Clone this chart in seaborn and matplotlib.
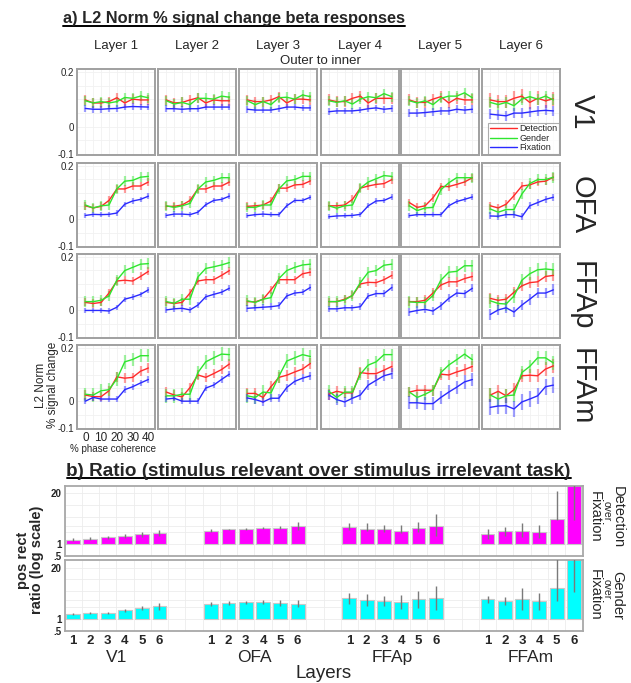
import numpy as np
import pandas as pd
import matplotlib
matplotlib.use("Agg")
import matplotlib.pyplot as plt
import seaborn as sns
from matplotlib.lines import Line2D

sns.set_style("white")
plt.rcParams['font.family'] = ['Liberation Sans', 'DejaVu Sans']

# ---- data: part a) (9 coherence levels x 6 layers, one list per region/task) ----
coherence = [0, 5, 10, 15, 20, 25, 30, 35, 40]
layers = ["Layer 1", "Layer 2", "Layer 3", "Layer 4", "Layer 5", "Layer 6"]
regions = ["V1", "OFA", "FFAp", "FFAm"]
tasks = ["Detection", "Gender", "Fixation"]

v1_det = [[0.098, 0.087, 0.087, 0.092, 0.106, 0.087, 0.101, 0.098, 0.098],
          [0.098, 0.087, 0.089, 0.098, 0.106, 0.087, 0.098, 0.095, 0.095],
          [0.098, 0.092, 0.092, 0.098, 0.110, 0.087, 0.101, 0.101, 0.098],
          [0.098, 0.092, 0.092, 0.104, 0.112, 0.087, 0.104, 0.104, 0.104],
          [0.098, 0.089, 0.089, 0.101, 0.110, 0.087, 0.104, 0.098, 0.098],
          [0.098, 0.092, 0.092, 0.104, 0.112, 0.089, 0.104, 0.095, 0.102]]
v1_gen = [[0.095, 0.087, 0.092, 0.087, 0.092, 0.107, 0.104, 0.112, 0.106],
          [0.095, 0.083, 0.089, 0.081, 0.104, 0.104, 0.101, 0.112, 0.108],
          [0.095, 0.081, 0.092, 0.081, 0.106, 0.108, 0.101, 0.116, 0.110],
          [0.095, 0.089, 0.095, 0.083, 0.101, 0.110, 0.106, 0.121, 0.110],
          [0.095, 0.087, 0.095, 0.081, 0.104, 0.112, 0.112, 0.124, 0.106],
          [0.089, 0.081, 0.089, 0.077, 0.101, 0.110, 0.101, 0.112, 0.098]]
v1_fix = [[0.067, 0.064, 0.064, 0.066, 0.067, 0.072, 0.074, 0.073, 0.072],
          [0.066, 0.066, 0.064, 0.066, 0.066, 0.072, 0.072, 0.072, 0.072],
          [0.064, 0.061, 0.061, 0.061, 0.066, 0.072, 0.072, 0.069, 0.069],
          [0.055, 0.058, 0.058, 0.058, 0.061, 0.066, 0.069, 0.064, 0.067],
          [0.050, 0.050, 0.052, 0.055, 0.058, 0.058, 0.064, 0.061, 0.064],
          [0.046, 0.043, 0.040, 0.050, 0.050, 0.054, 0.058, 0.060, 0.058]]

ofa_det = [[0.051, 0.043, 0.049, 0.071, 0.114, 0.114, 0.125, 0.125, 0.140],
           [0.049, 0.049, 0.054, 0.071, 0.114, 0.114, 0.125, 0.125, 0.140],
           [0.049, 0.051, 0.054, 0.069, 0.117, 0.117, 0.129, 0.131, 0.144],
           [0.051, 0.051, 0.054, 0.075, 0.117, 0.125, 0.131, 0.134, 0.149],
           [0.063, 0.045, 0.051, 0.081, 0.123, 0.123, 0.131, 0.140, 0.156],
           [0.051, 0.043, 0.057, 0.089, 0.125, 0.129, 0.140, 0.143, 0.158]]
ofa_gen = [[0.054, 0.043, 0.051, 0.054, 0.114, 0.143, 0.146, 0.158, 0.161],
           [0.051, 0.045, 0.051, 0.060, 0.114, 0.140, 0.146, 0.156, 0.156],
           [0.045, 0.045, 0.054, 0.054, 0.114, 0.144, 0.149, 0.161, 0.161],
           [0.051, 0.042, 0.051, 0.054, 0.117, 0.140, 0.152, 0.164, 0.161],
           [0.051, 0.033, 0.043, 0.045, 0.111, 0.137, 0.156, 0.156, 0.156],
           [0.039, 0.027, 0.037, 0.037, 0.095, 0.134, 0.149, 0.149, 0.158]]
ofa_fix = [[0.015, 0.019, 0.018, 0.019, 0.024, 0.057, 0.069, 0.075, 0.087],
           [0.015, 0.020, 0.020, 0.018, 0.027, 0.055, 0.071, 0.075, 0.087],
           [0.014, 0.018, 0.020, 0.018, 0.018, 0.051, 0.071, 0.071, 0.083],
           [0.010, 0.013, 0.014, 0.015, 0.019, 0.051, 0.069, 0.071, 0.084],
           [0.014, 0.018, 0.018, 0.018, 0.018, 0.051, 0.067, 0.075, 0.084],
           [0.013, 0.012, 0.018, 0.018, 0.010, 0.051, 0.063, 0.075, 0.083]]

ffap_det = [[0.030, 0.026, 0.030, 0.065, 0.110, 0.113, 0.110, 0.127, 0.146],
            [0.030, 0.026, 0.030, 0.065, 0.110, 0.115, 0.115, 0.131, 0.149],
            [0.033, 0.032, 0.042, 0.077, 0.115, 0.115, 0.115, 0.137, 0.143],
            [0.033, 0.033, 0.042, 0.056, 0.099, 0.105, 0.104, 0.115, 0.131],
            [0.033, 0.033, 0.038, 0.065, 0.095, 0.107, 0.107, 0.119, 0.127],
            [0.045, 0.038, 0.042, 0.068, 0.092, 0.104, 0.107, 0.127, 0.131]]
ffap_gen = [[0.033, 0.033, 0.038, 0.054, 0.113, 0.149, 0.161, 0.173, 0.175],
            [0.033, 0.027, 0.042, 0.042, 0.125, 0.157, 0.163, 0.170, 0.179],
            [0.036, 0.030, 0.042, 0.048, 0.119, 0.149, 0.161, 0.170, 0.173],
            [0.033, 0.033, 0.039, 0.056, 0.104, 0.143, 0.149, 0.169, 0.173],
            [0.032, 0.030, 0.030, 0.056, 0.113, 0.143, 0.146, 0.167, 0.167],
            [0.036, 0.026, 0.024, 0.054, 0.113, 0.137, 0.152, 0.155, 0.152]]
ffap_fix = [[0.000, 0.000, 0.000, -0.002, 0.012, 0.042, 0.050, 0.060, 0.077],
            [0.002, 0.006, 0.008, 0.002, 0.020, 0.051, 0.060, 0.068, 0.083],
            [0.008, 0.010, 0.012, 0.014, 0.018, 0.054, 0.065, 0.068, 0.086],
            [0.006, 0.006, 0.010, 0.010, 0.014, 0.054, 0.063, 0.063, 0.086],
            [-0.006, 0.000, 0.004, -0.002, 0.018, 0.045, 0.065, 0.063, 0.083],
            [-0.015, 0.002, 0.010, -0.006, 0.020, 0.042, 0.065, 0.065, 0.077]]

ffam_det = [[0.024, 0.018, 0.018, 0.040, 0.092, 0.087, 0.090, 0.113, 0.125],
            [0.035, 0.024, 0.017, 0.052, 0.099, 0.090, 0.104, 0.119, 0.140],
            [0.030, 0.030, 0.015, 0.055, 0.090, 0.098, 0.110, 0.121, 0.142],
            [0.027, 0.038, 0.032, 0.032, 0.108, 0.104, 0.104, 0.117, 0.131],
            [0.035, 0.042, 0.042, 0.042, 0.102, 0.099, 0.110, 0.119, 0.131],
            [0.024, 0.038, 0.021, 0.044, 0.096, 0.098, 0.096, 0.121, 0.133]]
ffam_gen = [[0.027, 0.024, 0.040, 0.044, 0.084, 0.148, 0.157, 0.171, 0.171],
            [0.021, 0.021, 0.027, 0.027, 0.108, 0.148, 0.163, 0.177, 0.175],
            [0.021, 0.015, 0.035, 0.032, 0.094, 0.151, 0.163, 0.175, 0.168],
            [0.038, 0.015, 0.035, 0.035, 0.102, 0.136, 0.148, 0.175, 0.175],
            [0.035, 0.015, 0.027, 0.042, 0.108, 0.136, 0.156, 0.177, 0.156],
            [0.024, 0.009, 0.021, 0.024, 0.108, 0.131, 0.163, 0.163, 0.144]]
ffam_fix = [[0.001, 0.015, 0.009, 0.009, 0.009, 0.044, 0.055, 0.069, 0.082],
            [0.009, 0.012, 0.001, 0.001, 0.001, 0.050, 0.061, 0.082, 0.102],
            [0.013, 0.007, -0.002, 0.012, 0.012, 0.052, 0.075, 0.087, 0.096],
            [0.024, 0.007, -0.002, 0.012, 0.024, 0.061, 0.079, 0.096, 0.104],
            [-0.005, -0.005, -0.008, -0.008, 0.015, 0.035, 0.053, 0.073, 0.082],
            [-0.022, -0.017, -0.016, -0.028, -0.002, 0.009, 0.021, 0.055, 0.061]]

# typical error half-length per layer (one value per panel)
v1_err = {"Detection": [0.018, 0.018, 0.018, 0.02, 0.02, 0.025],
          "Gender": [0.018, 0.018, 0.018, 0.018, 0.018, 0.02],
          "Fixation": [0.012, 0.012, 0.012, 0.012, 0.015, 0.018]}
ofa_err = {"Detection": [0.015, 0.015, 0.015, 0.015, 0.015, 0.015],
           "Gender": [0.018, 0.018, 0.018, 0.018, 0.018, 0.02],
           "Fixation": [0.01, 0.01, 0.01, 0.01, 0.01, 0.013]}
ffap_err = {"Detection": [0.015, 0.015, 0.015, 0.015, 0.018, 0.02],
            "Gender": [0.02, 0.02, 0.02, 0.02, 0.022, 0.025],
            "Fixation": [0.01, 0.012, 0.012, 0.012, 0.015, 0.02]}
ffam_err = {"Detection": [0.018, 0.018, 0.02, 0.02, 0.02, 0.025],
            "Gender": [0.025, 0.025, 0.025, 0.022, 0.02, 0.025],
            "Fixation": [0.012, 0.012, 0.015, 0.02, 0.025, 0.03]}

# ---- data: part b) ratios with error range (lo, hi) ----
bar_layers = ["1", "2", "3", "4", "5", "6"]
det_ratio = [1.32, 1.40, 1.49, 1.62, 1.82, 1.97,
             2.23, 2.41, 2.51, 2.61, 2.66, 2.94,
             2.72, 2.51, 2.41, 2.23, 2.61, 2.94,
             1.82, 2.14, 2.23, 2.10, 4.40, 40.0]
det_lo = [1.20, 1.30, 1.36, 1.45, 1.55, 1.65,
          2.05, 2.30, 2.35, 2.45, 2.40, 2.30,
          2.30, 2.20, 2.10, 1.90, 2.10, 1.60,
          1.35, 1.60, 1.55, 1.45, 4.20, 4.20]
det_hi = [1.42, 1.50, 1.62, 1.80, 2.10, 2.35,
          2.45, 2.52, 2.68, 2.80, 2.95, 3.80,
          3.60, 3.40, 3.20, 3.10, 3.80, 6.00,
          2.46, 2.70, 3.50, 3.20, 23.0, 60.0]
gen_ratio = [1.35, 1.40, 1.46, 1.65, 1.90, 2.10,
             2.41, 2.56, 2.66, 2.72, 2.56, 2.46,
             3.32, 3.06, 2.83, 2.72, 3.19, 3.46,
             3.13, 2.83, 3.19, 2.83, 6.05, 40.0]
gen_lo = [1.27, 1.32, 1.38, 1.49, 1.65, 1.72,
          2.14, 2.32, 2.41, 2.46, 2.18, 2.01,
          2.46, 2.18, 2.10, 1.82, 1.93, 1.72,
          2.56, 2.27, 1.68, 1.72, 2.90, 4.70]
gen_hi = [1.43, 1.49, 1.55, 1.82, 2.19, 2.56,
          2.72, 2.83, 2.94, 3.00, 3.00, 3.00,
          4.48, 4.30, 3.82, 4.06, 5.26, 6.97,
          3.82, 3.53, 6.05, 4.67, 40.0, 60.0]

task_colors = {"Detection": "#ff2a2a", "Gender": "#2ee62e", "Fixation": "#2a2aff"}
region_data = {"V1": (v1_det, v1_gen, v1_fix, v1_err),
               "OFA": (ofa_det, ofa_gen, ofa_fix, ofa_err),
               "FFAp": (ffap_det, ffap_gen, ffap_fix, ffap_err),
               "FFAm": (ffam_det, ffam_gen, ffam_fix, ffam_err)}

W, H = 631, 683
fig = plt.figure(figsize=(W / 100, H / 100), dpi=100)


def rect(left, top, width, height):
    return [left / W, 1 - (top + height) / H, width / W, height / H]


def underlined(x, y, s, size):
    t = fig.text(x / W, 1 - y / H, s, fontsize=size, fontweight="bold",
                 ha="left", va="baseline")
    r = fig.canvas.get_renderer()
    bb = t.get_window_extent(r).transformed(fig.transFigure.inverted())
    yl = 1 - (y + 2.5) / H
    fig.add_artist(Line2D([bb.x0, bb.x1], [yl, yl], transform=fig.transFigure,
                          color="black", lw=1.4))


# ---------------- part a ----------------
underlined(63, 23.5, "a) L2 Norm % signal change beta responses", 11.8)

col_left = [77, 158, 239, 320.5, 401, 482]
row_top = [69, 163, 254, 345]
row_h = [86, 84, 84, 84]
pw = 78

for j, lab in enumerate(layers):
    fig.text((col_left[j] + pw / 2) / W, 1 - 49 / H, lab, ha="center",
             va="baseline", fontsize=9.5)
fig.text(320 / W, 1 - 63.5 / H, "Outer to inner", ha="center", va="baseline",
         fontsize=9.5)

for i, reg in enumerate(regions):
    det, gen, fix, err = region_data[reg]
    for j in range(6):
        ax = fig.add_axes(rect(col_left[j], row_top[i], pw, row_h[i]))
        df = pd.DataFrame({
            "coh": coherence * 3,
            "val": det[j] + gen[j] + fix[j],
            "task": [t for t in tasks for _ in coherence],
        })
        for t in tasks:
            sub = df[df["task"] == t]
            ax.errorbar(sub["coh"], sub["val"], yerr=err[t][j], fmt="none",
                        ecolor=task_colors[t], elinewidth=1.6, alpha=0.45,
                        capsize=0, zorder=2)
        sns.lineplot(data=df, x="coh", y="val", hue="task", hue_order=tasks,
                     palette=task_colors, legend=False, ax=ax, lw=1.0,
                     zorder=3)
        ax.set_xlim(-5.3, 44.2)
        ax.set_ylim(-0.103, 0.211)
        ax.set_xticks(coherence)
        ax.set_yticks([-0.1, -0.05, 0, 0.05, 0.1, 0.15, 0.2])
        ax.grid(True, color="#f1f1f1", lw=0.6)
        ax.tick_params(length=0, pad=2)
        ax.set_xlabel("")
        ax.set_ylabel("")
        if j == 0:
            ax.set_yticklabels(["-0.1", "", "0", "", "", "", "0.2"], fontsize=7)
        else:
            ax.set_yticklabels([])
        if i == 3 and j == 0:
            ax.set_xticks(coherence, ["0", "", "10", "", "20", "", "30", "", "40"],
                          fontsize=8.5)
            ax.tick_params(axis="x", pad=2)
        else:
            ax.set_xticklabels([])
        for sp in ax.spines.values():
            sp.set_color("#a0a0a0")
            sp.set_linewidth(1.4)
        if i == 0 and j == 5:
            handles = [Line2D([], [], color=task_colors[t], lw=1.0) for t in tasks]
            leg = ax.legend(handles, tasks, loc="lower right", fontsize=6.5,
                            frameon=True, fancybox=False, borderaxespad=0.1,
                            handlelength=3.0, handletextpad=0.2,
                            labelspacing=0.05, borderpad=0.2)
            leg.get_frame().set_edgecolor("#999999")
            leg.get_frame().set_linewidth(0.8)
    fig.text(582 / W, 1 - (row_top[i] + row_h[i] / 2) / H, reg, rotation=-90,
             ha="center", va="center", fontsize=21)

fig.text(70 / W, 1 - 449 / H, "% phase coherence", ha="left", va="center",
         fontsize=7)
fig.text(47 / W, 1 - 385 / H, "L2 Norm\n% signal change", rotation=90,
         ha="center", va="center", fontsize=8.5, linespacing=1.1)

# ---------------- part b ----------------
underlined(66.5, 475.5, "b) Ratio (stimulus relevant over stimulus irrelevant task)", 13.6)

positions = [g * 8 + k for g in range(4) for k in range(6)]
bar_specs = [(486, det_ratio, det_lo, det_hi, "#ff00ff",
              ["Detection", "over", "Fixation"], 517),
             (560, gen_ratio, gen_lo, gen_hi, "#00ffff",
              ["Gender", "over", "Fixation"], 595)]

for k, (top, vals, lo, hi, col, side, yc) in enumerate(bar_specs):
    ax = fig.add_axes(rect(64.5, top, 518, 71 if k else 70))
    v = np.array(vals)
    ax.bar(positions, v - 1, bottom=1, width=0.8, color=col,
           edgecolor="#c8c8c8", lw=0.8, zorder=2)
    ax.errorbar(positions, v, yerr=[v - np.array(lo), np.array(hi) - v],
                fmt="none", ecolor="#7a7a7a", elinewidth=1.0, capsize=0,
                zorder=3)
    ax.set_yscale("log")
    ax.set_ylim(0.5, 31)
    ax.set_xlim(-0.44, 29.43)
    ax.set_yticks([0.5, 1, 20], [".5", "1", "20"], fontsize=7, fontweight="bold")
    ax.set_yticks([2, 3, 5, 10], minor=True)
    ax.set_yticklabels([], minor=True)
    ax.set_xticks(np.arange(-0.5, 30, 1), minor=True)
    ax.grid(True, which="minor", color="#ececec", lw=0.6)
    ax.grid(True, which="major", axis="y", color="#ececec", lw=0.6)
    ax.tick_params(which="both", length=0, pad=2)
    for sp in ax.spines.values():
        sp.set_color("#a8a8a8")
        sp.set_linewidth(1.3)
    if k == 1:
        ax.set_xticks(positions, bar_layers * 4, fontsize=9.5, fontweight="bold")
        ax.tick_params(axis="x", pad=3)
        for g, reg in enumerate(regions):
            ax.text(g * 8 + 2.5, -0.37, reg, transform=ax.get_xaxis_transform(),
                    ha="center", va="center", fontsize=12.5)
        ax.text(14.5, -0.6, "Layers", transform=ax.get_xaxis_transform(),
                ha="center", va="center", fontsize=13.5)
    else:
        ax.set_xticks(positions, [""] * 24)
    fig.text(617.5 / W, 1 - yc / H, side[0], rotation=-90, ha="center",
             va="center", fontsize=10.5)
    fig.text(606.5 / W, 1 - (yc - 6) / H, side[1], rotation=-90, ha="center",
             va="center", fontsize=7.5)
    fig.text(595 / W, 1 - yc / H, side[2], rotation=-90, ha="center",
             va="center", fontsize=10.5)

fig.text(30 / W, 1 - 560 / H, "pos rect\nratio (log scale)", rotation=90,
         ha="center", va="center", fontsize=10.5, fontweight="bold",
         linespacing=1.0)

fig.savefig("out.png", dpi=100, facecolor="white")
